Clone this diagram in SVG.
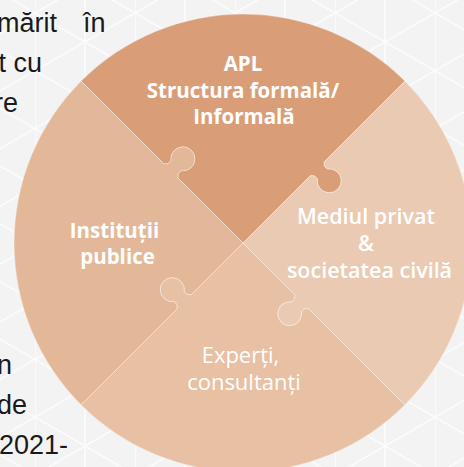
<svg xmlns="http://www.w3.org/2000/svg" width="464" height="467" viewBox="0 0 464 467">
<defs>
<pattern id="tri" patternUnits="userSpaceOnUse" width="100" height="57.735" x="35" y="13">
<path d="M0,0V57.735M50,0V57.735M0,0L100,57.735M0,57.735L100,0" stroke="#ffffff" stroke-width="1.3" fill="none"/>
</pattern>
<style>
.bg{fill:#f3f3f3}
.slide{font-family:"Liberation Sans",Arial,sans-serif;font-size:27px;fill:#1a1a1a}
.piece{stroke:#ffffff;stroke-opacity:0.35;stroke-width:1}
.lbl{font-family:"Open Sans","DejaVu Sans",sans-serif;fill:#ffffff;text-anchor:middle}
.b{font-weight:700;font-size:20.5px}
.sb{font-weight:600;font-size:21.5px}
.r{font-weight:400;font-size:22px}
</style>
</defs>
<rect class="bg" x="0" y="0" width="464" height="467"/>
<rect x="0" y="0" width="464" height="467" fill="url(#tri)" opacity="0.85"/>
<g id="slide-text">
<text class="slide" x="57" y="31.7" text-anchor="end">mărit</text>
<text class="slide" x="83" y="31.7">în</text>
<text class="slide" x="42" y="71.7" text-anchor="end">t cu</text>
<text class="slide" x="18" y="111.7" text-anchor="end">re</text>
<text class="slide" x="12" y="374" text-anchor="end">n</text>
<text class="slide" x="27" y="414" text-anchor="end">de</text>
<text class="slide" x="68" y="454" text-anchor="end">2021-</text>
</g>
<g id="apl">
<path class="piece" fill="#d99e78" d="M243,243 L177.95,177.95 Q176.53,173.70 180.95,170.70 A12,12 0 1 0 171.05,160.80 Q168.05,165.22 163.80,163.80 L81.07,81.07 A229,229 0 0 1 404.93,81.07 L324.32,161.68 Q322.90,165.93 327.32,168.93 A12,12 0 1 1 317.42,178.83 Q314.42,174.41 310.175,175.825 Z"/>
<text class="lbl b" x="243" y="71">APL</text>
<text class="lbl b" x="243" y="98">Structura formală/</text>
<text class="lbl b" x="244" y="124">Informală</text>
</g>
<g id="institutii">
<path class="piece" fill="#e3b899" d="M243,243 L191.38,294.62 Q187.14,296.03 184.13,291.61 A12,12 0 1 0 174.23,301.51 Q178.65,304.52 177.24,308.76 L81.07,404.93 A229,229 0 0 1 81.07,81.07 L163.80,163.80 Q168.05,165.22 171.05,160.80 A12,12 0 1 1 180.95,170.70 Q176.53,173.70 177.95,177.95 Z"/>
<text class="lbl b" x="114.5" y="238">Instituții</text>
<text class="lbl b" x="117.5" y="264">publice</text>
</g>
<g id="mediul">
<path class="piece" fill="#ebcab3" d="M243,243 L310.175,175.825 Q314.42,174.41 317.42,178.83 A12,12 0 1 0 327.32,168.93 Q322.90,165.93 324.32,161.68 L404.93,81.07 A229,229 0 0 1 404.93,404.93 L308.76,308.76 Q304.52,307.35 301.51,311.77 A12,12 0 1 1 291.61,301.87 Q296.03,298.86 294.62,294.62 Z"/>
<text class="lbl sb" x="366" y="224">Mediul privat</text>
<text class="lbl sb" x="366" y="251" font-size="20px">&amp;</text>
<text class="lbl sb" x="369.5" y="278">societatea civilă</text>
</g>
<g id="experti">
<path class="piece" fill="#e8c1a5" d="M243,243 L294.62,294.62 Q296.03,298.86 291.61,301.87 A12,12 0 1 0 301.51,311.77 Q304.52,307.35 308.76,308.76 L404.93,404.93 A229,229 0 0 1 81.07,404.93 L177.24,308.76 Q178.65,304.52 174.23,301.51 A12,12 0 1 1 184.13,291.61 Q187.14,296.03 191.38,294.62 Z"/>
<text class="lbl r" x="240.5" y="363">Experți,</text>
<text class="lbl r" x="244" y="390">consultanți</text>
</g>
</svg>
